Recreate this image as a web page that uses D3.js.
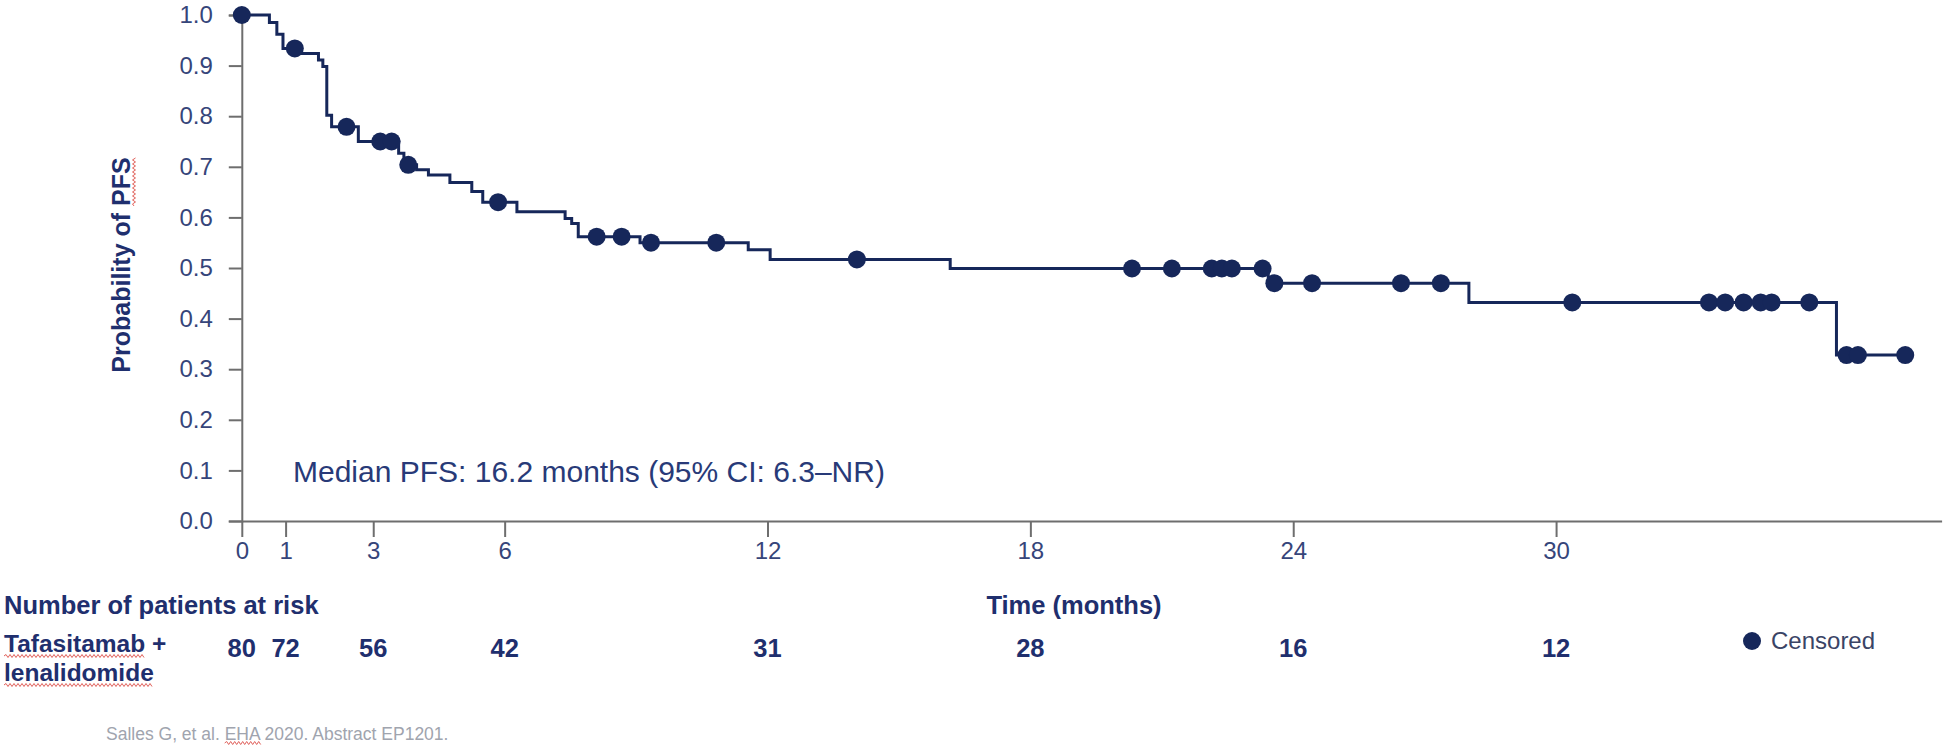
<!DOCTYPE html>
<html>
<head>
<meta charset="utf-8">
<script src="https://cdn.jsdelivr.net/npm/d3@7"></script>
<style>
  body { margin: 0; background: #fff; }
  svg { display: block; font-family: "Liberation Sans", Arial, sans-serif; }
</style>
</head>
<body>
<svg width="1945" height="748"></svg>
<script>
// Kaplan-Meier step curve: time (months) where each level starts, and the level
const stepTimes = [0, 0.63, 0.80, 0.94, 1.33, 1.75, 1.85, 1.94, 2.05, 2.66, 3.58, 3.70, 3.99, 4.26, 4.75, 5.25, 5.50,
  6.28, 7.38, 7.53, 7.68, 9.09, 11.56, 12.06, 16.17, 23.43, 28.01, 36.40];
const stepSurv = [1.0, 0.985, 0.962, 0.934, 0.924, 0.911, 0.898, 0.802, 0.779, 0.75, 0.727, 0.704, 0.694, 0.684, 0.669, 0.651, 0.630,
  0.611, 0.598, 0.588, 0.562, 0.550, 0.536, 0.517, 0.499, 0.470, 0.432, 0.328];
const curveEnd = 37.97;

// censored observations (months)
const censorTimes = [0, 1.21, 2.39, 3.16, 3.42, 3.80, 5.85, 8.10, 8.67, 9.34, 10.83, 14.04,
  20.32, 21.23, 22.14, 22.37, 22.60, 23.30, 23.57, 24.43, 26.46, 27.37,
  30.37, 33.49, 33.86, 34.28, 34.67, 34.92, 35.78, 36.63, 36.89, 37.97];

const xTicks = [0, 1, 3, 6, 12, 18, 24, 30];
const yTicks = [0, 0.1, 0.2, 0.3, 0.4, 0.5, 0.6, 0.7, 0.8, 0.9, 1.0];

const riskTimes = [0, 1, 3, 6, 12, 18, 24, 30];
const riskCounts = [80, 72, 56, 42, 31, 28, 16, 12];

const navy = "#16275a";
const textBlue = "#36457a";
const titleBlue = "#1f2f6e";
const axisGray = "#6e6e6e";

const svg = d3.select("svg");

const x = d3.scaleLinear().domain([0, 38.8]).range([241.8, 1941.6]);
const y = d3.scaleLinear().domain([0, 1]).range([521, 15]);

function survAt(t) {
  const i = d3.bisectRight(stepTimes, t) - 1;
  return stepSurv[Math.max(0, i)];
}

// red spell-check squiggle under a tspan (as in the source slide)
function squiggle(parent, node) {
  const b = node.getBBox();
  const p = d3.path();
  const yy = b.y + b.height - 1;
  p.moveTo(b.x, yy);
  let up = true;
  for (let xx = b.x + 2; xx <= b.x + b.width; xx += 2) {
    p.lineTo(xx, yy + (up ? -1.5 : 1.5));
    up = !up;
  }
  parent.append("path").attr("d", p.toString())
    .attr("fill", "none").attr("stroke", "#e0605a").attr("stroke-width", 1);
}

// axes
const yAxis = svg.append("g")
  .attr("transform", `translate(${x(0)},0)`)
  .call(d3.axisLeft(y).tickValues(yTicks).tickFormat(d3.format(".1f")).tickSize(13).tickPadding(16));

const xAxis = svg.append("g")
  .attr("transform", `translate(0,${y(0)})`)
  .call(d3.axisBottom(x).tickValues(xTicks).tickFormat(d3.format("d")).tickSize(16).tickSizeOuter(0).tickPadding(5));

[xAxis, yAxis].forEach(g => {
  g.select(".domain").attr("stroke", axisGray).attr("stroke-width", 2);
  g.selectAll(".tick line").attr("stroke", axisGray).attr("stroke-width", 2);
  g.selectAll(".tick text").attr("fill", textBlue).attr("font-size", 24)
    .attr("font-family", "Liberation Sans, Arial, sans-serif");
});

// KM curve
const pts = stepTimes.map((t, i) => [t, stepSurv[i]]);
pts.push([curveEnd, stepSurv[stepSurv.length - 1]]);

svg.append("path")
  .datum(pts)
  .attr("fill", "none")
  .attr("stroke", navy)
  .attr("stroke-width", 3)
  .attr("d", d3.line().x(d => x(d[0])).y(d => y(d[1])).curve(d3.curveStepAfter));

svg.append("g")
  .selectAll("circle")
  .data(censorTimes)
  .join("circle")
  .attr("cx", d => x(d))
  .attr("cy", d => y(survAt(d)))
  .attr("r", 9)
  .attr("fill", navy);

// y title
const yTitleG = svg.append("g").attr("transform", `translate(130,265) rotate(-90)`);
const yTitle = yTitleG.append("text")
  .attr("text-anchor", "middle")
  .attr("fill", titleBlue)
  .attr("font-size", 25)
  .attr("font-weight", "bold");
yTitle.append("tspan").text("Probability of ");
const pfs = yTitle.append("tspan").text("PFS");
squiggle(yTitleG, pfs.node());

// median annotation
svg.append("text")
  .attr("x", 293)
  .attr("y", 482)
  .attr("fill", "#283a78")
  .attr("font-size", 30)
  .text("Median PFS: 16.2 months (95% CI: 6.3\u2013NR)");

// x title
svg.append("text")
  .attr("x", 1074)
  .attr("y", 614)
  .attr("text-anchor", "middle")
  .attr("fill", titleBlue)
  .attr("font-size", 25.5)
  .attr("font-weight", "bold")
  .text("Time (months)");

// risk table
svg.append("text")
  .attr("x", 4)
  .attr("y", 614)
  .attr("fill", titleBlue)
  .attr("font-size", 25.5)
  .attr("font-weight", "bold")
  .text("Number of patients at risk");

const arm = svg.append("text")
  .attr("fill", titleBlue)
  .attr("font-size", 24.5)
  .attr("font-weight", "bold");
const taf = arm.append("tspan").attr("x", 4).attr("y", 652).text("Tafasitamab");
arm.append("tspan").text(" +");
const len = arm.append("tspan").attr("x", 4).attr("y", 681).text("lenalidomide");
squiggle(svg, taf.node());
squiggle(svg, len.node());

svg.append("g")
  .selectAll("text")
  .data(riskTimes)
  .join("text")
  .attr("x", d => x(d))
  .attr("y", 657)
  .attr("text-anchor", "middle")
  .attr("fill", titleBlue)
  .attr("font-size", 25.5)
  .attr("font-weight", "bold")
  .text((d, i) => riskCounts[i]);

// legend
svg.append("circle")
  .attr("cx", 1752)
  .attr("cy", 641)
  .attr("r", 9)
  .attr("fill", navy);
svg.append("text")
  .attr("x", 1771)
  .attr("y", 649)
  .attr("fill", "#3a4466")
  .attr("font-size", 24)
  .text("Censored");

// source
const src = svg.append("text")
  .attr("x", 106)
  .attr("y", 740)
  .attr("fill", "#a0a4ae")
  .attr("font-size", 17.5);
src.append("tspan").text("Salles G, et al. ");
const eha = src.append("tspan").text("EHA");
src.append("tspan").text(" 2020. Abstract EP1201.");
squiggle(svg, eha.node());
</script>
</body>
</html>
